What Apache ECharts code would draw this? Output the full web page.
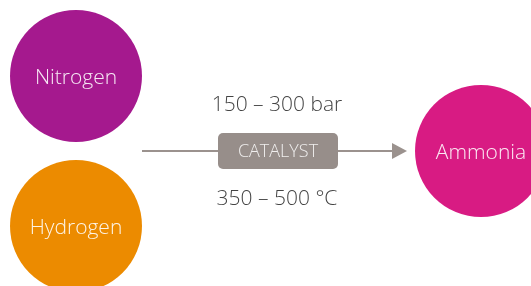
<!DOCTYPE html>
<html><head><meta charset="utf-8">
<script src="https://cdn.jsdelivr.net/npm/echarts@6/dist/echarts.min.js"></script>
<style>html,body{margin:0;padding:0;background:#fff}#c{width:531px;height:286px}</style>
</head><body><div id="c"></div>
<script>
var nodeNames = ['Nitrogen', 'Hydrogen', 'Ammonia'];
var nodeX = [76, 76, 481];
var nodeY = [76, 226, 151];
var nodeColors = ['#a5198e', '#ec8b00', '#d81b83'];
var pressureLabel = '150 – 300 bar';
var temperatureLabel = '350 – 500 °C';
var catalystLabel = 'CATALYST';

var chart = echarts.init(document.getElementById('c'));
var font = '"Open Sans", sans-serif';
chart.setOption({
  animation: false,
  grid: {left: 0, right: 0, top: 0, bottom: 0},
  xAxis: {type: 'value', min: 0, max: 531, show: false},
  yAxis: {type: 'value', min: 0, max: 286, inverse: true, show: false},
  series: [{
    type: 'scatter',
    symbol: 'circle',
    symbolSize: 132,
    itemStyle: {opacity: 1},
    data: nodeNames.map(function (n, i) {
      return {name: n, value: [nodeX[i], nodeY[i]], itemStyle: {color: nodeColors[i], opacity: 1}};
    }),
    label: {
      show: true, position: 'inside', formatter: '{b}', offset: [0, 2],
      color: 'rgba(255,255,255,0.9)', fontSize: 21, fontFamily: font, fontWeight: 300
    }
  }],
  graphic: [
    {type: 'line', shape: {x1: 142, y1: 151, x2: 394, y2: 151}, style: {stroke: '#9b928e', lineWidth: 2}},
    {type: 'polygon', shape: {points: [[392, 143], [407, 151], [392, 159]]}, style: {fill: '#9b928e'}},
    {type: 'rect', shape: {x: 218, y: 133, width: 120, height: 36, r: 5}, style: {fill: '#978e8a'}},
    {type: 'text', x: 278, y: 152, style: {text: catalystLabel, fill: 'rgba(255,255,255,0.85)', font: '300 18px ' + font, textAlign: 'center', textVerticalAlign: 'middle'}},
    {type: 'text', x: 277, y: 105, style: {text: pressureLabel, fill: '#444', font: '300 21px ' + font, textAlign: 'center', textVerticalAlign: 'middle'}},
    {type: 'text', x: 277, y: 199, style: {text: temperatureLabel, fill: '#444', font: '300 21px ' + font, textAlign: 'center', textVerticalAlign: 'middle'}}
  ]
});
</script></body></html>
